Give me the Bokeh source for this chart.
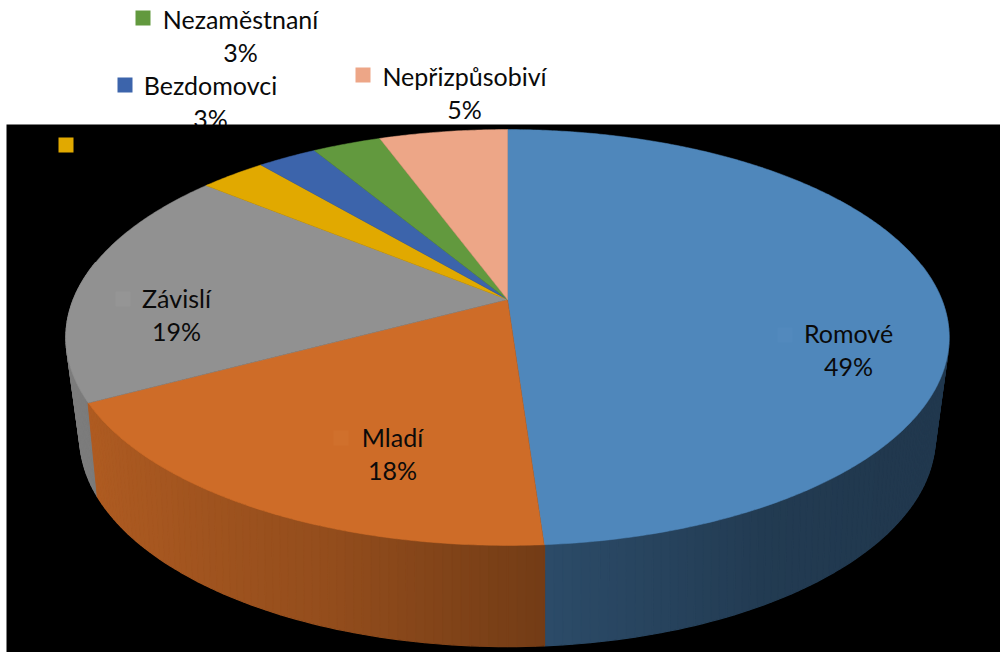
import numpy as np
from bokeh.plotting import figure
from bokeh.models import Range1d
from bokeh.core.properties import value
from bokeh.embed import file_html
from bokeh.resources import INLINE

# Data
categories = ["Romové", "Mladí", "Závislí", "", "Bezdomovci", "Nezaměstnaní", "Nepřizpůsobiví"]
shares = [48.9, 18.3, 18.7, 2.9, 2.6, 3.0, 5.6]
pct_labels = ["49%", "18%", "19%", "", "3%", "3%", "5%"]
colors = ["#4F87BB", "#CE6C28", "#919191", "#E1A900", "#3C64AB", "#62993E", "#EDA687"]

# Label placement (screen pixels): text centre x, name baseline y, key left x, key top y
label_x = [848, 392, 176, None, 210, 240, 464]
label_y = [332, 436, 297, None, 84, 18, 75]
key_x = [777, 333, 115, 58, 117, 135, 355]
key_y = [327, 430, 291, 137, 77, 10, 67]
key_colors = ["#5289BD", "#D0702C", "#959595", "#E1A900", "#3C64AB", "#62993E", "#EDA687"]

# Perspective disc projections
TOP = dict(cx=507.0, cy=299, a=434.2, b=201, k=0.1827)
BOT = dict(cx=507.0, cy=392, a=418, b=200, k=0.213)
FONT = value("Lato")
FS = "25px"


def project(theta_deg, d):
    t = np.radians(theta_deg)
    u, v = np.sin(t), -np.cos(t)
    w = 1 - d["k"] * v
    return d["cx"] + d["a"] * u / w, d["cy"] + d["b"] * v / w


def shade(hex_color, f):
    r, g, b = (int(hex_color[i:i + 2], 16) for i in (1, 3, 5))
    return "#%02x%02x%02x" % (int(r * f), int(g * f), int(b * f))


p = figure(width=1000, height=652, output_backend="svg", toolbar_location=None,
           x_range=Range1d(0, 1000), y_range=Range1d(652, 0),
           min_border=0, outline_line_color=None, background_fill_color="white",
           border_fill_color="white")
p.axis.visible = False
p.grid.visible = False


def labels(idx):
    for i in idx:
        p.text([label_x[i]], [label_y[i]], text=[categories[i]], text_font=FONT, text_font_size=FS,
               text_color="#0a0a0a", text_align="center", text_baseline="alphabetic")
        p.text([label_x[i]], [label_y[i] + 33], text=[pct_labels[i]], text_font=FONT, text_font_size=FS,
               text_color="#0a0a0a", text_align="center", text_baseline="alphabetic")


def key(i):
    p.quad(left=[key_x[i]], right=[key_x[i] + 15], top=[key_y[i]], bottom=[key_y[i] + 15],
           fill_color=key_colors[i], line_color=None)


# Labels outside the panel lie behind it
labels([4, 5, 6])
for i in (4, 5, 6):
    key(i)

# Black panel
p.quad(left=[6], right=[1000], top=[124], bottom=[652], fill_color="black", line_color=None)

# Slice boundaries
edges = np.concatenate([[0], np.cumsum(shares) / np.sum(shares) * 360])

# Side wall, drawn from the sides toward the front
shade_t = [90, 130, 150, 176, 200, 225, 245, 275]
shade_f = [.42, .42, .44, .56, .72, .81, .86, .86]
thetas = np.arange(80, 282, 1.0)
order = sorted(range(len(thetas) - 1), key=lambda j: -abs(thetas[j] - 180))
for j in order:
    t0, t1 = thetas[j], thetas[j + 1]
    mid = (t0 + t1) / 2
    s = int(np.searchsorted(edges, mid) - 1)
    c = shade(colors[s], float(np.interp(mid, shade_t, shade_f)))
    x0, y0 = project(t0, TOP)
    x1, y1 = project(t1, TOP)
    x2, y2 = project(t1, BOT)
    x3, y3 = project(t0, BOT)
    p.patch([x0, x1, x2, x3], [y0, y1, y2, y3], fill_color=c, line_color=c, line_width=1.2)

# Top of the pie
for s in range(len(shares)):
    th = np.linspace(edges[s], edges[s + 1], max(int(edges[s + 1] - edges[s]) * 2, 4))
    xs, ys = project(th, TOP)
    p.patch(np.r_[TOP["cx"], xs], np.r_[TOP["cy"], ys], fill_color=colors[s], line_color=colors[s], line_width=0.5)

# Labels inside the panel
for i in (0, 1, 2, 3):
    key(i)
labels([0, 1, 2])

open("out.html", "w").write(file_html(p, INLINE))
